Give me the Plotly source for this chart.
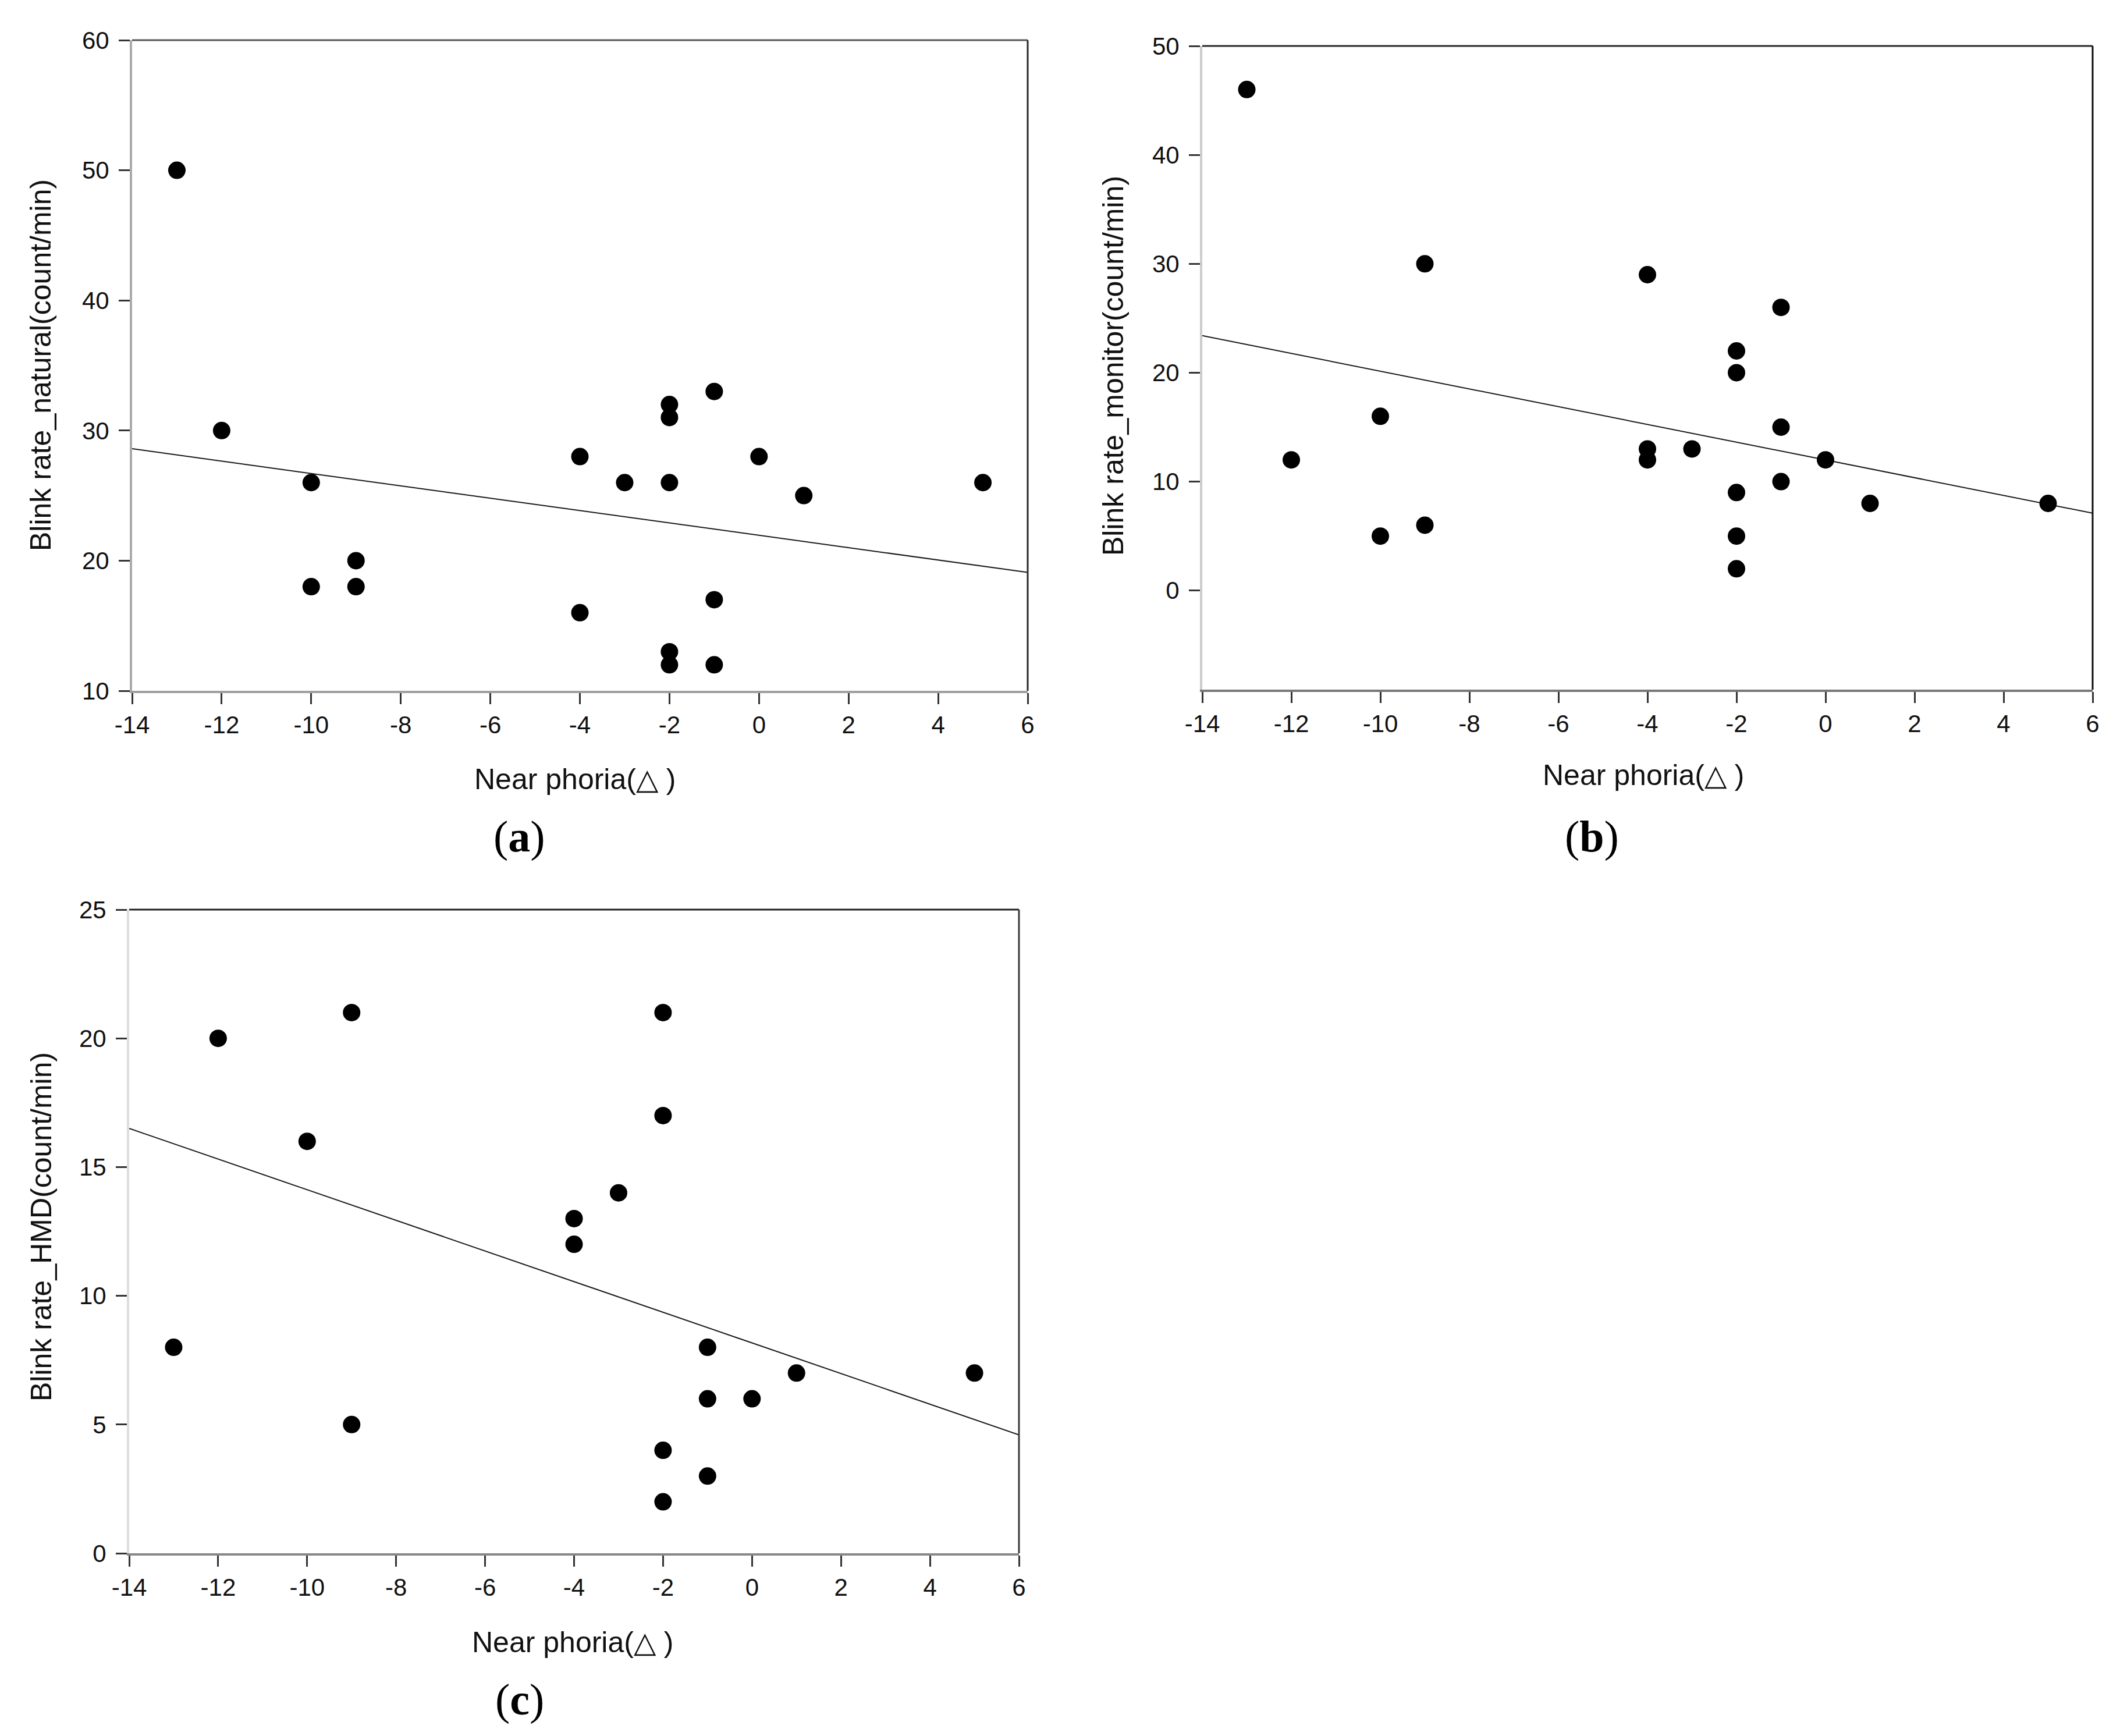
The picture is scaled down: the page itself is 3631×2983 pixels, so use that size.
import plotly.graph_objects as go

# (a) blink rate, natural viewing
nat_x = [-13, -12, -10, -10, -9, -9, -4, -4, -3, -2, -2, -2, -2, -2, -1, -1, -1, 0, 1, 5]
nat_y = [50, 30, 26, 18, 20, 18, 28, 16, 26, 32, 31, 26, 13, 12, 33, 17, 12, 28, 25, 26]

# (b) blink rate, monitor
mon_x = [-13, -12, -10, -10, -9, -9, -4, -4, -4, -3, -2, -2, -2, -2, -2, -1, -1, -1, 0, 1, 5]
mon_y = [46, 12, 16, 5, 30, 6, 29, 13, 12, 13, 22, 20, 9, 5, 2, 26, 15, 10, 12, 8, 8]

# (c) blink rate, HMD
hmd_x = [-13, -12, -10, -9, -9, -4, -4, -3, -2, -2, -2, -2, -1, -1, -1, 0, 1, 5]
hmd_y = [8, 20, 16, 21, 5, 13, 12, 14, 21, 17, 4, 2, 8, 6, 3, 6, 7, 7]

# regression lines, read at the ends of the x range
fit_x = [-14, 6]
nat_fit = [28.6, 19.1]
mon_fit = [23.4, 7.1]
hmd_fit = [16.5, 4.6]

x_ticks = [-14, -12, -10, -8, -6, -4, -2, 0, 2, 4, 6]
nat_ticks = [10, 20, 30, 40, 50, 60]
mon_ticks = [0, 10, 20, 30, 40, 50]
hmd_ticks = [0, 5, 10, 15, 20, 25]

x_title = "Near phoria(\u25b3 )"
y_titles = ["Blink rate_natural(count/min)", "Blink rate_monitor(count/min)",
            "Blink rate_HMD(count/min)"]

W, H = 3631, 2983
FONT = "Liberation Sans"

fig = go.Figure()

panels = [
    ("x", "y", nat_x, nat_y, nat_fit),
    ("x2", "y2", mon_x, mon_y, mon_fit),
    ("x3", "y3", hmd_x, hmd_y, hmd_fit),
]
for xa, ya, xs, ys, fit in panels:
    fig.add_trace(go.Scatter(x=fit_x, y=fit, mode="lines", xaxis=xa, yaxis=ya,
                             line=dict(color="#1a1a1a", width=2), showlegend=False))
    fig.add_trace(go.Scatter(x=xs, y=ys, mode="markers", xaxis=xa, yaxis=ya,
                             marker=dict(color="black", size=30), showlegend=False))


def ax(line_color, ticks, **kw):
    return dict(showline=True, linecolor=line_color, linewidth=4,
                ticks="outside", ticklen=19, tickwidth=3, tickcolor="#333",
                tickvals=ticks, ticktext=[str(t) for t in ticks],
                showgrid=False, zeroline=False, automargin=False,
                tickfont=dict(family=FONT, size=42, color="#111"), **kw)


fig.update_layout(
    width=W, height=H, margin=dict(l=0, r=0, t=0, b=0, autoexpand=False),
    plot_bgcolor="white", paper_bgcolor="white",
    xaxis=ax("#a0a0a0", x_ticks, domain=[219 / W, 1758 / W], anchor="y", range=[-14, 6]),
    yaxis=ax("#aaaaaa", nat_ticks, domain=[1 - 1179 / H, 1 - 61 / H], anchor="x",
             range=[10, 60], ticklabelstandoff=8),
    xaxis2=ax("#777777", x_ticks, domain=[2058 / W, 3588 / W], anchor="y2", range=[-14, 6]),
    yaxis2=ax("#cccccc", mon_ticks, domain=[1 - 1177 / H, 1 - 71 / H], anchor="x2",
              range=[-9.1, 50], ticklabelstandoff=8),
    xaxis3=ax("#888888", x_ticks, domain=[214 / W, 1743 / W], anchor="y3", range=[-14, 6]),
    yaxis3=ax("#dddddd", hmd_ticks, domain=[1 - 2661 / H, 1 - 1555 / H], anchor="x3",
              range=[0, 25], ticklabelstandoff=8),
)

# dark top and right frame lines
for xa, ya, top, right in [("x", "y", "#555555", "#2a2a2a"),
                           ("x2", "y2", "#2a2a2a", "#111111"),
                           ("x3", "y3", "#222222", "#3a3a3a")]:
    fig.add_shape(type="line", xref=f"{xa} domain", yref=f"{ya} domain",
                  x0=0, x1=1, y0=1, y1=1, line=dict(color=top, width=3))
    fig.add_shape(type="line", xref=f"{xa} domain", yref=f"{ya} domain",
                  x0=1, x1=1, y0=0, y1=1, line=dict(color=right, width=3))

# axis titles (pixel centres)
title_font = dict(family=FONT, size=50, color="#111")
centred = dict(xref="paper", yref="paper", xanchor="center", yanchor="middle", showarrow=False)
for cx, cy in [(980, 1331), (2816, 1324), (976, 2814)]:
    fig.add_annotation(text=x_title, x=cx / W, y=1 - cy / H, font=title_font, **centred)
for text, cx, cy in zip(y_titles, [62, 1905, 63], [620, 621, 2100]):
    fig.add_annotation(text=text, x=cx / W, y=1 - cy / H, textangle=-90,
                       font=title_font, **centred)

# panel letters
for label, cx, cy in [("a", 884, 1429), ("b", 2727, 1429), ("c", 885, 2912)]:
    fig.add_annotation(text=f"(<b>{label}</b>)", x=cx / W, y=1 - cy / H,
                       font=dict(family="Liberation Serif", size=76, color="black"), **centred)

fig.write_html("out.html")
